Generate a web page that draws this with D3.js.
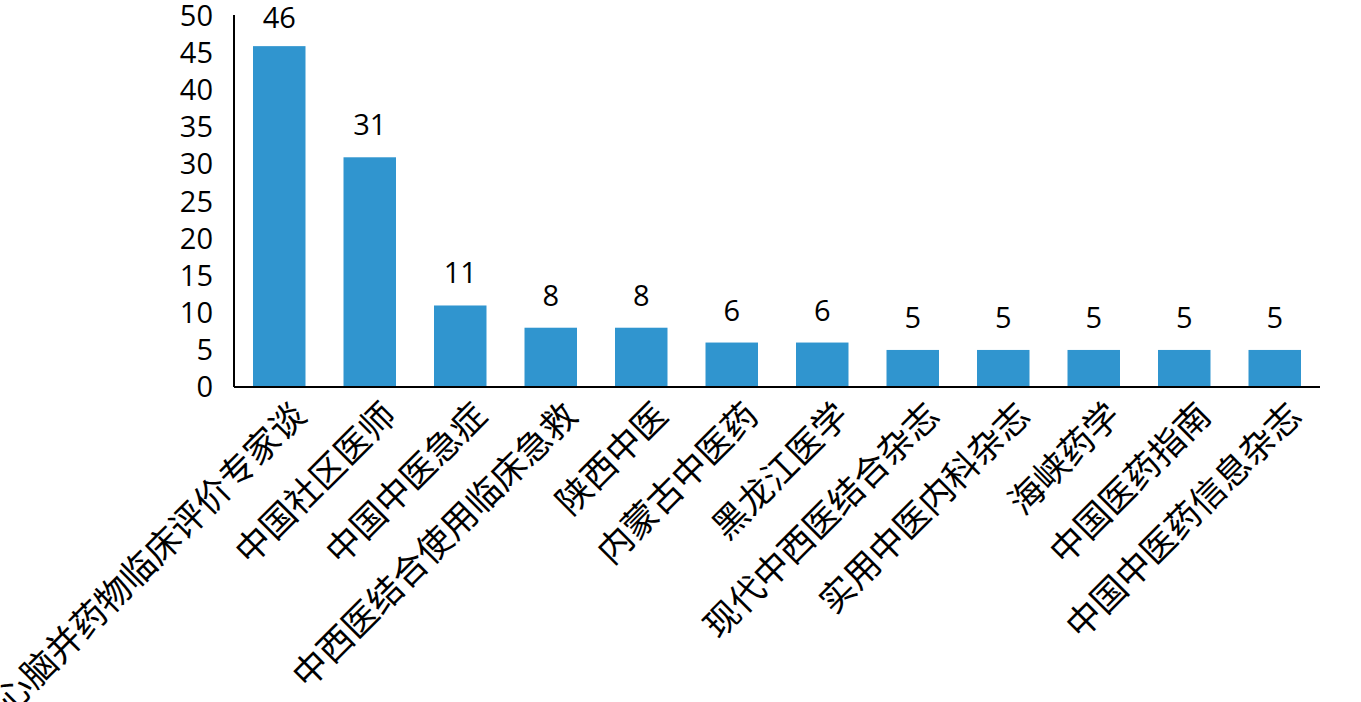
<!DOCTYPE html>
<html><head><meta charset="utf-8">
<script src="https://cdn.jsdelivr.net/npm/d3@7"></script>
<style>body{margin:0;background:#fff}</style>
</head><body>
<svg id="c" width="1361" height="702"></svg>
<script>
const categories = ["心脑并药物临床评价专家谈","中国社区医师","中国中医急症","中西医结合使用临床急救","陕西中医","内蒙古中医药","黑龙江医学","现代中西医结合杂志","实用中医内科杂志","海峡药学","中国医药指南","中国中医药信息杂志"];
const values = [46,31,11,8,8,6,6,5,5,5,5,5];
const yTicks = [0,5,10,15,20,25,30,35,40,45,50];

const svg = d3.select("#c");
const x0 = 234, x1 = 1320, yb = 387, yt = 16.5;
const x = d3.scaleBand().domain(categories).range([x0, x1]).paddingInner(0.42).paddingOuter(0.21);
const y = d3.scaleLinear().domain([0,50]).range([yb, yt]);

svg.selectAll("rect.bar").data(values).join("rect")
  .attr("x",(d,i)=>x(categories[i])).attr("y",d=>y(d))
  .attr("width",x.bandwidth()).attr("height",d=>yb-y(d))
  .attr("fill","#3095cf");

// y axis
const ya = svg.append("g").attr("transform",`translate(${x0},0)`)
  .call(d3.axisLeft(y).tickValues(yTicks).tickSize(0).tickPadding(21));
ya.select(".domain").attr("stroke","#000").attr("stroke-width",2).attr("d",`M0,${yb}V15`);
ya.selectAll("text").attr("font-family","'Open Sans', sans-serif").attr("font-size",29).attr("fill","#000");

// x axis
const xa = svg.append("g").attr("transform",`translate(0,${yb})`)
  .call(d3.axisBottom(x).tickSize(0).tickFormat(""));
xa.select(".domain").attr("stroke","#000").attr("stroke-width",2).attr("d",`M${x0},0H${x1}`);

// value labels
svg.selectAll("text.val").data(values).join("text")
  .attr("x",(d,i)=>x(categories[i])+x.bandwidth()/2).attr("y",d=>Math.max(y(d)-22, 28))
  .attr("text-anchor","middle").attr("font-family","'Open Sans', sans-serif")
  .attr("font-size",29).attr("fill","#000").text(d=>d);

// category labels
svg.selectAll("text.cat").data(categories).join("text")
  .attr("transform",d=>`translate(${x(d)+x.bandwidth()/2+20},${yb+22}) rotate(-45)`)
  .attr("text-anchor","end").attr("dy","0.35em")
  .attr("font-family","'Noto Sans CJK SC', sans-serif").attr("font-size",35).attr("fill","#000")
  .text(d=>d);
</script>
</body></html>
